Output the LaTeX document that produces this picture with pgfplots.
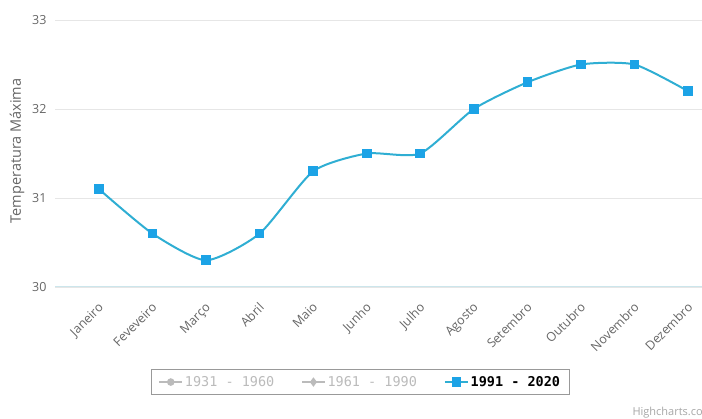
\documentclass[border=0pt]{standalone}
\usepackage{pgfplots}
\pgfplotsset{compat=1.18}
\usepackage{fontspec}
\setmainfont{Open Sans}
\newfontfamily\legfont{DejaVu Sans Mono}
\definecolor{linec}{HTML}{2FAED3}
\definecolor{markc}{HTML}{1CA3E6}
\definecolor{gridc}{HTML}{E6E6E6}
\definecolor{basec}{HTML}{CCE6EC}
\definecolor{tickc}{HTML}{666666}
\definecolor{legg}{HTML}{BBBBBB}
\begin{document}
\begin{tikzpicture}
\path[use as bounding box] (-55pt,-132pt) rectangle (647pt,287pt);
\begin{axis}[
  scale only axis, width=647pt, height=267pt,
  at={(0,0)}, anchor=south west,
  xmin=-0.82, xmax=11.26, ymin=30, ymax=33,
  axis x line=bottom, axis y line=left,
  x axis line style={draw=basec, line width=1pt, -},
  y axis line style={draw=none},
  major tick length=0,
  ytick={30,31,32,33},
  ymajorgrids, grid style={gridc, line width=0.8pt},
  xtick={0,...,11},
  xticklabels={Janeiro,Feveveiro,Março,Abril,Maio,Junho,Julho,Agosto,Setembro,Outubro,Novembro,Dezembro},
  xticklabel style={rotate=45, anchor=north east, font=\fontsize{12.5}{14}\selectfont, text=tickc, xshift=-8pt, yshift=-6pt},
  yticklabel style={font=\fontsize{12.5}{14}\selectfont, text=tickc, xshift=-5pt},
  /pgf/number format/assume math mode=true,
  ylabel={Temperatura Máxima},
  every axis y label/.style={at={(rel axis cs:-0.0587,0.51)}, rotate=90, anchor=center,
    font=\fontsize{14.5}{17}\selectfont, text=tickc},
  legend columns=3,
  legend style={at={(rel axis cs:0.472,-0.356)}, anchor=center, draw=gray!80, line width=1pt,
    font=\legfont\fontsize{13.5}{16}\selectfont, inner xsep=7pt, inner ysep=5pt,
    /tikz/every even column/.append style={column sep=25pt}},
  legend image code/.code={\draw[mark repeat=2,mark phase=2] plot coordinates {(0cm,0cm) (0.4cm,0cm) (0.8cm,0cm)};},
]
\addlegendimage{legg, line width=1.5pt, mark=*, mark size=3pt, mark options={fill=legg, draw=legg}}
\addlegendentry{\textcolor{legg}{1931 - 1960}}
\addlegendimage{legg, line width=1.5pt, mark=diamond*, mark size=3.5pt, mark options={fill=legg, draw=legg}}
\addlegendentry{\textcolor{legg}{1961 - 1990}}
\addplot[linec, line width=2pt, smooth, tension=0.38, mark=square*, mark size=3.8pt,
  mark options={fill=markc, draw=markc}] coordinates {
  (0,31.1) (1,30.6) (2,30.3) (3,30.6) (4,31.3) (5,31.5)
  (6,31.5) (7,32.0) (8,32.3) (9,32.5) (10,32.5) (11,32.2)
};
\addlegendentry{\textbf{1991 - 2020}}
\end{axis}
\node[overlay, anchor=west, text=gray!70, font=\fontsize{11}{12}\selectfont] at (574pt,-126pt) {Highcharts.com};
\end{tikzpicture}
\end{document}
